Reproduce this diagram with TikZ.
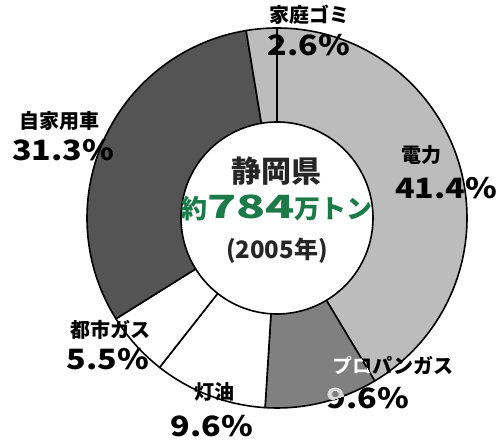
\documentclass[tikz,border=0pt]{standalone}
\usepackage{fontspec}
\setmainfont{Noto Sans CJK JP}
\newfontfamily\valfont{Noto Sans CJK JP}[FakeStretch=1.15]
\newfontfamily\bignum{Noto Sans CJK JP}[FakeStretch=1.5]
\definecolor{lightseg}{RGB}{188,188,188}
\definecolor{midseg}{RGB}{128,128,128}
\definecolor{darkseg}{RGB}{84,84,84}
\definecolor{tongreen}{RGB}{28,122,72}
\tikzset{%
  segment/.style={
    draw=black,
    line width=1.6pt,
    line join=round
  },
  share label/.style={
    inner sep=0pt,
    text=black,
    font=\fontsize{20}{20}\selectfont\bfseries
  },
  share value/.style={
    inner sep=0pt,
    text=black,
    font=\valfont\fontsize{28}{28}\selectfont\bfseries
  },
}

\begin{document}
\begin{tikzpicture}[x=1pt, y=1pt]

\useasboundingbox (-277,-225) rectangle (222,218);

% segments, clockwise from the top
\foreach \a/\b/\c [count=\i] in {0/149.04/lightseg, 149.04/183.6/midseg, 183.6/218.16/white, 218.16/237.96/white, 237.96/350.64/darkseg, 350.64/360/lightseg}
{
 \filldraw [segment, fill=\c] ({90-\a}:190) arc [start angle=90-\a, end angle=90-\b, radius=190]
   -- ({90-\b}:96) arc [start angle=90-\b, end angle=90-\a, radius=96] -- cycle;
}

%%%%%%%%%%%%%%%%%%%%%%%%%%%%%%%%%%%%%%%%%%%%%%%%%%%%%%%%%%%%%%%%%%%%%%%%%%%%%
% labels

\foreach \n/\t/\x/\y in {gomi/家庭ゴミ/33/203, denryoku/電力/145/63, car/自家用車/-217/97, toshigas/都市ガス/-166/-112, touyu/灯油/-62/-174, propane/プロパンガス/116/-148}
  \node [share label] (\n) at (\x,\y) {\t};

\foreach \n/\t/\x/\y in {gomi-val/2.6\%/32/173, denryoku-val/41.4\%/169/30, car-val/31.3\%/-214/68, toshigas-val/5.5\%/-169/-141, touyu-val/9.6\%/-65/-208, propane-val/9.6\%/91/-180}
  \node [share value] (\n) at (\x,\y) {\t};

% part of the propane label that lies on its own segment
\begin{scope}
 \clip ({90-149.04}:190) arc [start angle=90-149.04, end angle=90-183.6, radius=190]
   -- ({90-183.6}:96) arc [start angle=90-183.6, end angle=90-149.04, radius=96] -- cycle;
 \node [share label, text=white] (propane-w) at (propane.center) {プロパンガス};
 \node [share value, text=white!85!black] (propane-val-w) at (propane-val.center) {9.6\%};
\end{scope}

%%%%%%%%%%%%%%%%%%%%%%%%%%%%%%%%%%%%%%%%%%%%%%%%%%%%%%%%%%%%%%%%%%%%%%%%%%%%%
% centre

\node [inner sep=0pt, text=black!85, font=\fontsize{30}{30}\selectfont\bfseries] (pref) at (0,47) {静岡県};
\node [inner sep=0pt, text=tongreen, font=\fontsize{26}{26}\selectfont\bfseries] (total) at (0,10) {約{\bignum\fontsize{32}{32}\selectfont\bfseries 784}万トン};
\node [inner sep=0pt, text=black!85, font=\fontsize{24}{24}\selectfont\bfseries] (year) at (0,-33) {(2005年)};

\end{tikzpicture}
\end{document}
